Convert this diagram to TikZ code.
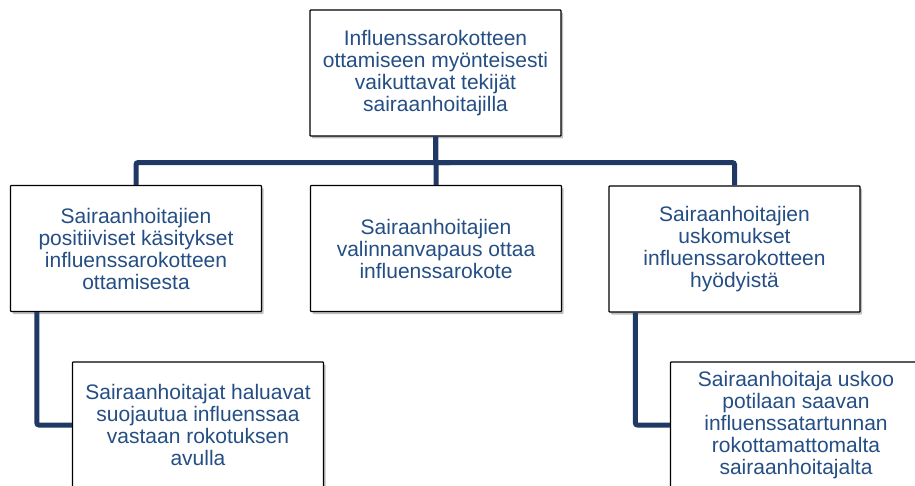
\documentclass[tikz,border=0pt]{standalone}
\usepackage{fontspec}
\setmainfont{Liberation Sans}
\usepackage{xcolor}
\usetikzlibrary{shadows}
\definecolor{textblue}{RGB}{36,78,132}
\definecolor{linkblue}{RGB}{31,56,100}

\begin{document}
\begin{tikzpicture}[x=1pt,y=-1pt]
  \tikzset{factor/.style = {shape=rectangle,draw=black,line width=1.2pt,fill=white,rounded corners=0.8pt,
      minimum width=251pt,minimum height=126pt,inner sep=2pt,align=center,text=textblue,
      font=\fontsize{21}{22}\selectfont,
      drop shadow={shadow xshift=2pt,shadow yshift=-2.5pt,fill=black,opacity=.25}}}
  \tikzset{link/.style = {draw=linkblue,line width=5pt,rounded corners=2pt}}

  \useasboundingbox (0,0) rectangle (915,486);

	\node[factor] (T) at (435.5,73) {Influenssarokotteen\\ottamiseen myönteisesti\\vaikuttavat tekijät\\sairaanhoitajilla};

	\node[factor] (L) at (136,248.5) {Sairaanhoitajien\\positiiviset käsitykset\\influenssarokotteen\\ottamisesta};
	\node[factor] (M) at (436,248.5) {Sairaanhoitajien\\valinnanvapaus ottaa\\influenssarokote};
	\node[factor] (R) at (734.5,249) {Sairaanhoitajien\\uskomukset\\influenssarokotteen\\hyödyistä};

	\node[factor] (LS) at (198,425) {Sairaanhoitajat haluavat\\suojautua influenssaa\\vastaan rokotuksen\\avulla};
	\node[factor] (RS) at (796,425) {Sairaanhoitaja uskoo\\potilaan saavan\\influenssatartunnan\\rokottamattomalta\\sairaanhoitajalta};

    \foreach \to in {L,M,R}
    \draw[link] (T.south) -- ++(0,26) -| (\to.north);

    \foreach \from/\to in {L/LS, R/RS}
    \draw[link] ([xshift=27pt]\from.south west) |- (\to.west);

\end{tikzpicture}
\end{document}
